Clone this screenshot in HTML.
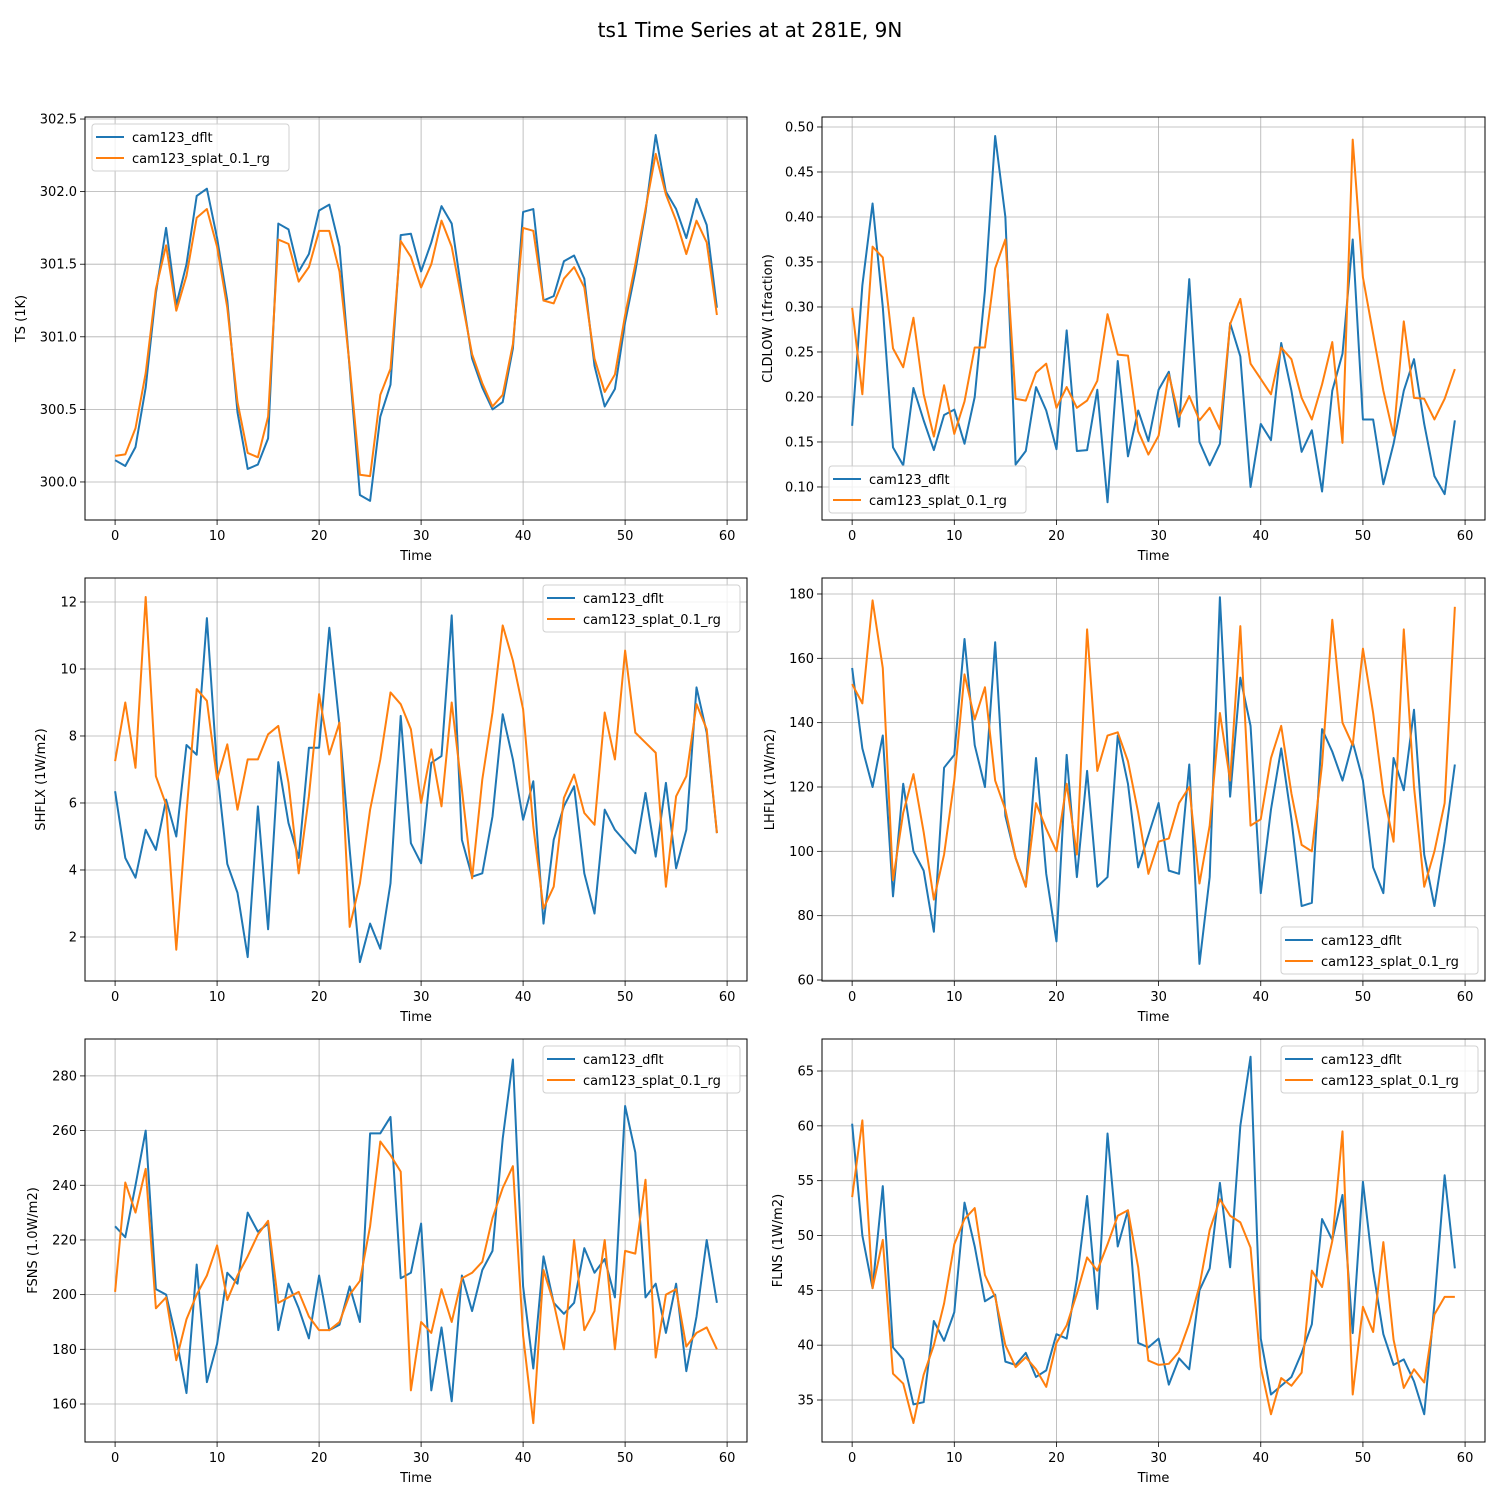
<!DOCTYPE html>
<html><head><meta charset="utf-8"><style>
html,body{margin:0;padding:0;background:#fff;}
svg{display:block;font-family:"DejaVu Sans","Liberation Sans",sans-serif;}
</style></head><body>
<svg id="fig" width="1500" height="1500" viewBox="0 0 1500 1500">
<rect width="1500" height="1500" fill="#fff"/>
<text x="750" y="37" font-size="20" text-anchor="middle" fill="#000">ts1 Time Series at at 281E, 9N</text>
</svg>
<script>
const ts_dflt=[300.15,300.11,300.24,300.65,301.3,301.75,301.22,301.5,301.97,302.02,301.68,301.25,300.48,300.09,300.12,300.3,301.78,301.74,301.45,301.57,301.87,301.91,301.62,300.78,299.91,299.87,300.45,300.67,301.7,301.71,301.45,301.65,301.9,301.78,301.3,300.85,300.65,300.5,300.55,300.92,301.86,301.88,301.25,301.28,301.52,301.56,301.4,300.8,300.52,300.64,301.1,301.45,301.86,302.39,302.0,301.88,301.68,301.95,301.77,301.2];
const ts_splat=[300.18,300.19,300.37,300.75,301.33,301.63,301.18,301.42,301.82,301.88,301.62,301.2,300.55,300.2,300.17,300.45,301.67,301.64,301.38,301.48,301.73,301.73,301.45,300.8,300.05,300.04,300.6,300.78,301.66,301.55,301.34,301.5,301.8,301.62,301.25,300.88,300.68,300.52,300.6,300.95,301.75,301.73,301.25,301.23,301.4,301.48,301.34,300.85,300.62,300.74,301.15,301.5,301.88,302.26,301.98,301.8,301.57,301.8,301.65,301.15];
const cld_dflt=[0.168,0.324,0.415,0.30,0.144,0.124,0.21,0.174,0.141,0.18,0.186,0.148,0.20,0.318,0.49,0.40,0.125,0.14,0.211,0.185,0.142,0.274,0.14,0.141,0.208,0.083,0.24,0.134,0.185,0.151,0.208,0.228,0.167,0.331,0.15,0.124,0.148,0.282,0.245,0.10,0.17,0.152,0.26,0.207,0.139,0.163,0.095,0.207,0.248,0.375,0.175,0.175,0.103,0.148,0.207,0.242,0.17,0.112,0.092,0.174];
const cld_splat=[0.299,0.203,0.367,0.355,0.254,0.233,0.288,0.203,0.156,0.213,0.159,0.195,0.255,0.255,0.343,0.375,0.198,0.196,0.227,0.237,0.188,0.211,0.188,0.196,0.218,0.292,0.247,0.246,0.162,0.136,0.157,0.225,0.178,0.201,0.174,0.188,0.164,0.281,0.309,0.237,0.22,0.203,0.255,0.242,0.199,0.175,0.214,0.261,0.149,0.486,0.333,0.27,0.207,0.157,0.284,0.199,0.198,0.175,0.198,0.231];
const sh_dflt=[6.35,4.36,3.77,5.2,4.6,6.1,5.0,7.73,7.44,11.52,7.0,4.18,3.32,1.4,5.9,2.23,7.22,5.4,4.36,7.65,7.65,11.23,8.3,4.6,1.25,2.4,1.65,3.6,8.6,4.8,4.2,7.2,7.4,11.6,4.9,3.8,3.9,5.6,8.65,7.3,5.5,6.65,2.4,4.9,5.9,6.5,3.9,2.7,5.8,5.2,4.85,4.5,6.3,4.4,6.6,4.05,5.2,9.45,8.1,5.1];
const sh_splat=[7.25,9.0,7.05,12.15,6.8,5.95,1.62,5.7,9.4,9.05,6.7,7.75,5.8,7.3,7.3,8.05,8.3,6.6,3.9,6.2,9.25,7.45,8.4,2.3,3.6,5.8,7.3,9.3,8.95,8.2,6.0,7.6,5.9,9.0,6.4,3.75,6.7,8.7,11.3,10.25,8.8,5.3,2.85,3.5,6.15,6.85,5.7,5.35,8.7,7.3,10.55,8.1,7.8,7.5,3.5,6.2,6.8,8.95,8.2,5.1];
const lh_dflt=[157,132,120,136,86,121,100,94,75,126,130,166,133,120,165,111,98,89,129,93,72,130,92,125,89,92,136,121,95,105,115,94,93,127,65,92,179,117,154,139,87,113,132,110,83,84,138,131,122,134,122,95,87,129,119,144,99,83,103,127];
const lh_splat=[152,146,178,157,91,112,124,106,85,99,122,155,141,151,122,113,98,89,115,107,100,121,99,169,125,136,137,128,112,93,103,104,115,120,90,108,143,122,170,108,110,129,139,118,102,100,127,172,140,133,163,143,118,103,169,120,89,100,115,176];
const fsns_dflt=[225,221,240,260,202,200,184,164,211,168,182,208,204,230,223,226,187,204,195,184,207,187,189,203,190,259,259,265,206,208,226,165,188,161,207,194,209,216,257,286,203,173,214,197,193,197,217,208,213,199,269,252,199,204,186,204,172,192,220,197];
const fsns_splat=[201,241,230,246,195,199,176,191,200,207,218,198,207,214,222,227,197,199,201,192,187,187,190,200,205,225,256,251,245,165,190,186,202,190,206,208,212,228,239,247,185,153,209,197,180,220,187,194,220,180,216,215,242,177,200,202,181,186,188,180];
const flns_dflt=[60.2,50,45.2,54.5,39.8,38.7,34.6,34.8,42.2,40.4,43,53,49,44,44.6,38.5,38.2,39.3,37.1,37.7,41,40.6,46,53.6,43.3,59.3,49,52.3,40.2,39.8,40.6,36.4,38.8,37.8,45,47,54.8,47.1,60,66.3,40.6,35.5,36.3,37.1,39.3,41.9,51.5,49.6,53.7,41.1,54.9,46.8,41,38.2,38.7,36.7,33.7,43.8,55.5,47];
const flns_splat=[53.5,60.5,45.2,49.6,37.4,36.5,32.9,37.3,40,43.8,49.2,51.5,52.5,46.4,44.4,40,38,38.9,37.8,36.2,40.2,41.8,44.7,48,46.8,49.2,51.8,52.3,47.1,38.6,38.2,38.3,39.4,42,45.4,50.5,53.3,51.8,51.2,48.9,38,33.7,37,36.3,37.5,46.8,45.3,49.5,59.5,35.5,43.5,41.2,49.4,40.5,36.1,37.8,36.6,42.8,44.4,44.4];
const xTicks=[0,10,20,30,40,50,60];
const seriesNames=["cam123_dflt","cam123_splat_0.1_rg"];
const tsTicks=[300.0,300.5,301.0,301.5,302.0,302.5];
const cldTicks=[0.10,0.15,0.20,0.25,0.30,0.35,0.40,0.45,0.50];
const shTicks=[2,4,6,8,10,12];
const lhTicks=[60,80,100,120,140,160,180];
const fsnsTicks=[160,180,200,220,240,260,280];
const flnsTicks=[35,40,45,50,55,60,65];

const NS="http://www.w3.org/2000/svg";
const svg=document.getElementById('fig');
function mk(tag,attrs,parent){const e=document.createElementNS(NS,tag);for(const k in attrs)e.setAttribute(k,attrs[k]);(parent||svg).appendChild(e);return e;}

const panels=[
 {key:'ts',L:85,T:117,R:747,B:520,y0:299.738,y1:302.514,ticks:tsTicks,dec:1,ylabel:'TS (1K)',a:ts_dflt,b:ts_splat,leg:'tl'},
 {key:'cldlow',L:822,T:117,R:1485,B:520,y0:0.0633,y1:0.5111,ticks:cldTicks,dec:2,ylabel:'CLDLOW (1fraction)',a:cld_dflt,b:cld_splat,leg:'bl'},
 {key:'shflx',L:85,T:578,R:747,B:981,y0:0.686,y1:12.716,ticks:shTicks,dec:0,ylabel:'SHFLX (1W/m2)',a:sh_dflt,b:sh_splat,leg:'tr'},
 {key:'lhflx',L:822,T:578,R:1485,B:981,y0:59.69,y1:184.97,ticks:lhTicks,dec:0,ylabel:'LHFLX (1W/m2)',a:lh_dflt,b:lh_splat,leg:'br'},
 {key:'fsns',L:85,T:1039,R:747,B:1442,y0:146.1,y1:293.5,ticks:fsnsTicks,dec:0,ylabel:'FSNS (1.0W/m2)',a:fsns_dflt,b:fsns_splat,leg:'tr'},
 {key:'flns',L:822,T:1039,R:1485,B:1442,y0:31.17,y1:67.92,ticks:flnsTicks,dec:0,ylabel:'FLNS (1W/m2)',a:flns_dflt,b:flns_splat,leg:'tr'}
];
const colors=['#1f77b4','#ff7f0e'];

panels.forEach(p=>{
 const g=mk('g',{});
 
 
 const xs=v=>p.L+(v+2.95)/64.9*(p.R-p.L);
 const ys=v=>p.B-(v-p.y0)/(p.y1-p.y0)*(p.B-p.T);
 xTicks.forEach(t=>{
  const x=xs(t);
  const gl=mk('line',{x1:x,x2:x,y1:p.T,y2:p.B,stroke:'#b0b0b0','stroke-width':0.8},g);
  
  
  mk('line',{x1:x,x2:x,y1:p.B,y2:p.B+5,stroke:'#000','stroke-width':0.8},g);
  const tx=mk('text',{x:x,y:p.B+20,'font-size':13,'text-anchor':'middle',fill:'#000'},g);
  tx.textContent=t;
  
  
 });
 p.ticks.forEach(t=>{
  const y=ys(t);
  const gl=mk('line',{x1:p.L,x2:p.R,y1:y,y2:y,stroke:'#b0b0b0','stroke-width':0.8},g);
  
  
  mk('line',{x1:p.L-5,x2:p.L,y1:y,y2:y,stroke:'#000','stroke-width':0.8},g);
  const tx=mk('text',{x:p.L-8,y:y+4.5,'font-size':13,'text-anchor':'end',fill:'#000'},g);
  tx.textContent=t.toFixed(p.dec);
  
  
 });
 [p.a,p.b].forEach((arr,si)=>{
  const d=arr.map((v,i)=>(i?'L':'M')+xs(i).toFixed(2)+','+ys(v).toFixed(2)).join('');
  const pl=mk('path',{d:d,fill:'none',stroke:colors[si],'stroke-width':2,'stroke-linejoin':'round'},g);
  
  
 });
 const fr=mk('rect',{x:p.L,y:p.T,width:p.R-p.L,height:p.B-p.T,fill:'none',stroke:'#000','stroke-width':1},g);
 
 
 const xl=mk('text',{x:(p.L+p.R)/2,y:p.B+40,'font-size':13,'text-anchor':'middle',fill:'#000'},g);
 xl.textContent='Time';
 
 
 const cy=(p.T+p.B)/2, cx=p.L-(p.dec===0?(p.ticks[p.ticks.length-1]>=100?48:40):(p.dec===1?60:50));
 const yl=mk('text',{x:cx,y:cy,'font-size':13,'text-anchor':'middle',fill:'#000',transform:'rotate(-90 '+cx+' '+cy+')'},g);
 yl.textContent=p.ylabel;
 
 
 const lw=197,lh=47;
 let lx,ly;
 if(p.leg==='tl'){lx=p.L+7;ly=p.T+7;}
 else if(p.leg==='bl'){lx=p.L+7;ly=p.B-7-lh;}
 else if(p.leg==='tr'){lx=p.R-7-lw;ly=p.T+7;}
 else {lx=p.R-7-lw;ly=p.B-7-lh;}
 const lg=mk('g',{},g);
 
 
 mk('rect',{x:lx,y:ly,width:lw,height:lh,rx:3,fill:'#fff','fill-opacity':0.8,stroke:'#d0d0d0','stroke-width':1},lg);
 seriesNames.forEach((n,i)=>{
  const yy=ly+13+i*21;
  const ln=mk('line',{x1:lx+4,x2:lx+32,y1:yy,y2:yy,stroke:colors[i],'stroke-width':2},lg);
  
  
  const t=mk('text',{x:lx+40,y:yy+5,'font-size':13,fill:'#000'},lg);
  t.textContent=n;
  
  
 });
});
</script>
</body></html>
